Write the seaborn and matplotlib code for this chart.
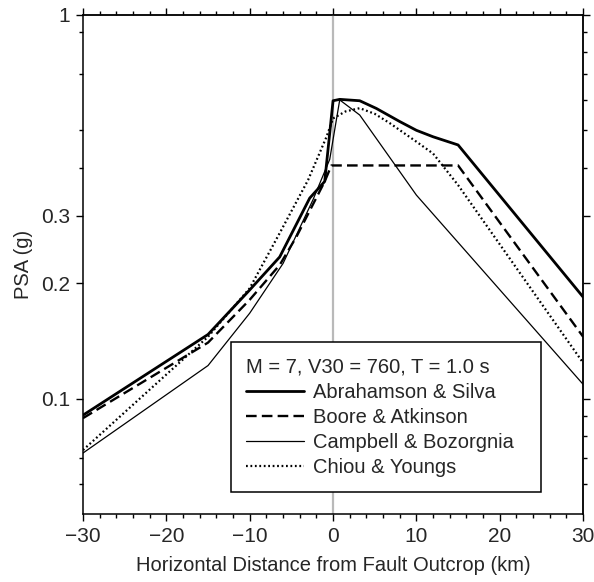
import numpy as np
import pandas as pd
import seaborn as sns
import matplotlib
matplotlib.use("Agg")
import matplotlib.pyplot as plt
from matplotlib.ticker import FixedLocator, NullFormatter

# =====
# data (distance in km, PSA in g)

dist_as = [-30, -15, -10, -6.4, -2.8, -1.0, 0.0, 0.8, 3.2, 5.2, 8.0, 10, 12, 15, 30]
psa_as = [0.0906, 0.147, 0.192, 0.234, 0.333, 0.368, 0.597, 0.602, 0.597, 0.570, 0.527, 0.500, 0.481, 0.458, 0.184]

dist_ba = [-30, -15, -10, -6.4, -4.4, -1.0, -0.2, 15, 30]
psa_ba = [0.089, 0.140, 0.181, 0.223, 0.264, 0.368, 0.405, 0.405, 0.145]

dist_cb = [-30, -15, -10, -6.0, -2.4, -0.4, 0.8, 3.2, 10, 30]
psa_cb = [0.0722, 0.122, 0.167, 0.225, 0.330, 0.420, 0.600, 0.548, 0.339, 0.109]

dist_cy = [-30, -15, -10, -6.4, -3.0, -0.8, 0.0, 1.5, 3.2, 5.0, 6.8, 10, 12, 15, 30]
psa_cy = [0.0735, 0.145, 0.194, 0.270, 0.371, 0.480, 0.537, 0.560, 0.571, 0.552, 0.522, 0.467, 0.435, 0.360, 0.124]

model_names = ["Abrahamson & Silva", "Boore & Atkinson", "Campbell & Bozorgnia", "Chiou & Youngs"]
legend_title = "M = 7, V30 = 760, T = 1.0 s"

y_major = [0.1, 0.2, 0.3, 1]
y_major_labels = ["0.1", "0.2", "0.3", "1"]
y_minor_left = [0.06, 0.07, 0.4, 0.5, 0.7, 0.9]
y_minor_right = [0.06, 0.07, 0.08, 0.09, 0.4, 0.5, 0.6, 0.7, 0.8, 0.9]

# long table for seaborn
frames = []
for name, d, p in zip(model_names, [dist_as, dist_ba, dist_cb, dist_cy], [psa_as, psa_ba, psa_cb, psa_cy]):
    frames.append(pd.DataFrame({"dist": d, "psa": p, "model": name}))
curves = pd.concat(frames, ignore_index=True)

styles = {
    "Abrahamson & Silva": dict(lw=2.0, ls="-"),
    "Boore & Atkinson": dict(lw=1.7, ls=(0, (4.5, 2.2))),
    "Campbell & Bozorgnia": dict(lw=0.9, ls="-"),
    "Chiou & Youngs": dict(lw=1.6, ls=(0, (0.8, 1.2))),
}

# ====
# plot

sns.set_style("ticks")
plt.rcParams["font.family"] = ["Liberation Sans", "DejaVu Sans"]
plt.rcParams["axes.unicode_minus"] = True

fig = plt.figure(figsize=(5.94, 5.82), dpi=100)
ax = fig.add_axes([0.1397, 0.1163, 0.8420, 0.8584])

ax.axvline(0, color="#b9b9b9", lw=1.6, zorder=1)

for name in model_names:
    sub = curves[curves["model"] == name]
    sns.lineplot(data=sub, x="dist", y="psa", ax=ax, color="black",
                 linewidth=styles[name]["lw"], linestyle=styles[name]["ls"],
                 label=name, sort=False, estimator=None, zorder=3)

ax.set_yscale("log")
ax.set_xlim(-30, 30)
ax.set_ylim(0.05, 1)

ax.set_xticks(range(-30, 31, 10))
ax.xaxis.set_minor_locator(FixedLocator(range(-30, 31, 2)))
ax.set_yticks(y_major)
ax.set_yticklabels(y_major_labels)
ax.yaxis.set_minor_locator(FixedLocator(y_minor_left))
ax.yaxis.set_minor_formatter(NullFormatter())

ax.set_xlabel("Horizontal Distance from Fault Outcrop (km)", fontsize=14.5, labelpad=7)
ax.set_ylabel("PSA (g)", fontsize=14.5, labelpad=6)

tick_kw = dict(direction="out", color="black", width=1.0)
ax.tick_params(which="major", length=5, labelsize=15, pad=4, **tick_kw)
ax.tick_params(which="minor", length=3, **tick_kw)

for s in ax.spines.values():
    s.set_visible(True)
    s.set_color("black")
    s.set_linewidth(1.1)

# top and right ticks without labels
top = ax.secondary_xaxis("top")
top.set_xticks(range(-30, 31, 10))
top.xaxis.set_minor_locator(FixedLocator(range(-30, 31, 2)))
top.set_xticklabels([])
top.tick_params(which="major", length=5, **tick_kw)
top.tick_params(which="minor", length=3, **tick_kw)
top.spines["top"].set_linewidth(1.1)

right = ax.secondary_yaxis("right")
right.set_yticks(y_major)
right.set_yticklabels([])
right.yaxis.set_minor_locator(FixedLocator(y_minor_right))
right.yaxis.set_minor_formatter(NullFormatter())
right.tick_params(which="major", length=5, **tick_kw)
right.tick_params(which="minor", length=3, **tick_kw)
right.spines["right"].set_linewidth(1.1)

leg = ax.legend(title=legend_title, title_fontsize=14.5, fontsize=14.5,
                loc="lower left", bbox_to_anchor=(0.295, 0.045, 0.621, 0.3),
                mode="expand", borderaxespad=0, alignment="left",
                fancybox=False, framealpha=1, edgecolor="black",
                handlelength=2.9, handletextpad=0.45, labelspacing=0.3,
                borderpad=0.75)
leg.get_frame().set_linewidth(1.1)

fig.savefig("out.png", dpi=100)
